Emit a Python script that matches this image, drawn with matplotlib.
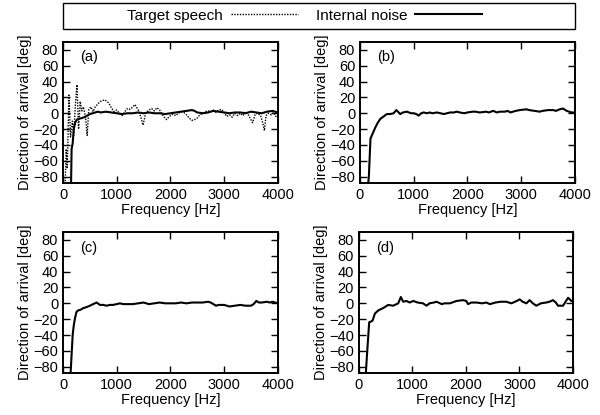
import numpy as np
import matplotlib
matplotlib.use("Agg")
import matplotlib.pyplot as plt
from matplotlib.patches import Rectangle
from matplotlib.lines import Line2D

plt.rcParams['font.family'] = ['Liberation Sans', 'DejaVu Sans']

# -----------------------------------------------------------------------------
# data
# -----------------------------------------------------------------------------
# (a) target speech, dotted
freq_a_speech = [0, 40, 60, 80, 110, 140, 175, 200, 230, 260, 290, 320, 350, 380,
                 420, 450, 480, 520, 560, 600, 650, 700, 780, 850, 900, 950, 1000,
                 1050, 1100, 1150, 1200, 1250, 1300, 1340, 1400, 1450, 1490, 1540,
                 1600, 1650, 1700, 1750, 1800, 1850, 1900, 1930, 1980, 2050, 2100,
                 2150, 2200, 2250, 2300, 2350, 2400, 2450, 2500, 2550, 2600, 2650,
                 2700, 2750, 2800, 2850, 2900, 2950, 3000, 3050, 3100, 3150, 3200,
                 3250, 3300, 3350, 3400, 3450, 3500, 3530, 3580, 3620, 3680, 3720,
                 3750, 3780, 3820, 3880, 3920, 3960, 4000]
doa_a_speech = [-90, -90, -45, -70, 23, -30, -10, -28, 10, 36, -20, 15, 3, 8,
                -5, -28, 5, 8, 2, 8, 12, 15, 17, 13, 7, 2, 4,
                0, -3, 2, 6, 5, 8, 11, 4, -5, -15, 0,
                4, 6, 3, 7, 4, -2, -6, -8, -4, -1, -3,
                0, 2, 1, -2, -6, -9, -8, -6, -2, 0, 2,
                3, 2, 4, 1, 4, 5, 1, -4, -2, -5, 0,
                -3, 0, -3, 2, -2, -8, -12, -1, 0, -3, -12,
                -22, -3, 0, -2, 1, -4, -3]

# (a) internal noise, solid
freq_a_noise = [0, 150, 160, 180, 200, 230, 260, 300, 350, 400, 450, 500, 550, 600,
                650, 700, 800, 900, 1000, 1100, 1200, 1300, 1400, 1500, 1600, 1700,
                1800, 1900, 2000, 2100, 2200, 2300, 2400, 2450, 2500, 2600, 2700,
                2800, 2900, 3000, 3100, 3200, 3300, 3400, 3500, 3600, 3700, 3800,
                3900, 4000]
doa_a_noise = [-90, -90, -45, -38, -20, -11, -8, -7, -6, -5, -3, -1, 0, 1,
               2, 1, 2, 1, 0, -1, 0, 0, 1, 0, 1, 0,
               0, -1, 0, 1, 2, 3, 4, 3, 1, 0, 1,
               3, 2, 1, 0, 1, 1, 0, 2, 1, 0, 2,
               3, 1]

# (b) internal noise
freq_b = [0, 150, 165, 195, 240, 285, 330, 380, 440, 500, 560, 626, 676, 750, 800,
          874, 950, 1000, 1050, 1091, 1140, 1184, 1250, 1300, 1350, 1432, 1500,
          1560, 1620, 1680, 1750, 1800, 1860, 1940, 2000, 2100, 2150, 2230, 2350,
          2400, 2480, 2550, 2600, 2700, 2750, 2800, 2900, 2976, 3100, 3150, 3250,
          3348, 3400, 3500, 3600, 3650, 3720, 3780, 3850, 3937, 4000]
doa_b = [-90, -90, -80, -32, -25, -18, -12, -7, -4, -1, -1, 0, 4, -1, 1,
         2, 0, 0, -1, -3, 0, 1, 0, 1, 0, 1, 0,
         -1, 0, 1, 1, 2, 1, 0, 1, 2, 2, 1, 2,
         1, 3, 1, 2, 2, 3, 1, 3, 4, 5, 4, 3,
         2, 3, 4, 4, 3, 5, 6, 3, 1, 1]

# (c) internal noise
freq_c = [0, 140, 160, 180, 200, 223, 250, 280, 330, 378, 430, 502, 560, 626, 688,
          750, 812, 870, 930, 1000, 1060, 1120, 1200, 1300, 1400, 1500, 1600, 1700,
          1800, 1900, 2000, 2100, 2200, 2300, 2400, 2500, 2600, 2700, 2750, 2800,
          2850, 2900, 3000, 3100, 3200, 3300, 3400, 3500, 3550, 3600, 3650, 3700,
          3800, 3850, 3900, 4000]
doa_c = [-90, -90, -65, -40, -28, -19, -11, -9, -8, -6, -5, -3, -1, 1, -2,
         -2, -3, -2, -2, -1, 0, -1, -1, -1, 0, 1, -1, 0,
         1, 0, 0, 0, 1, 0, 1, 1, 1, 2, 1, -1,
         -3, -2, -2, -4, -3, -2, -3, -3, -1, 3, 1, 1,
         2, 1, 2, 0]

# (d) internal noise
freq_d = [0, 130, 150, 194, 256, 300, 362, 455, 549, 642, 736, 785, 829, 891, 950,
          1016, 1100, 1200, 1265, 1320, 1400, 1452, 1550, 1600, 1701, 1825, 1950,
          2006, 2040, 2100, 2200, 2300, 2380, 2450, 2550, 2650, 2754, 2850, 2950,
          3003, 3060, 3130, 3190, 3250, 3315, 3400, 3500, 3560, 3626, 3680, 3720,
          3814, 3870, 3908, 3970, 4000]
doa_d = [-90, -90, -68, -24, -22, -13, -9, -6, -2, -3, 0, 8, 2, 3, 1,
         3, 1, 0, -3, 0, 1, 2, -1, 0, 0, 3, 4,
         3, -1, 1, 1, 0, 1, -1, 1, 2, 2, 0, 3,
         5, 2, 0, 4, 0, -3, 0, 1, 2, 4, 1, -3,
         -3, 3, 7, 3, 2]

panel_labels = ['(a)', '(b)', '(c)', '(d)']
y_ticks = [-80, -60, -40, -20, 0, 20, 40, 60, 80]
x_ticks = [0, 1000, 2000, 3000, 4000]

# -----------------------------------------------------------------------------
# figure
# -----------------------------------------------------------------------------
fig = plt.figure(figsize=(6.0, 4.15), dpi=100)

# axes rectangles [left, bottom, width, height] in figure fraction
rects = [[0.105, 0.559, 0.358, 0.340],
         [0.600, 0.559, 0.358, 0.340],
         [0.105, 0.101, 0.358, 0.340],
         [0.598, 0.101, 0.357, 0.340]]

axes = [fig.add_axes(r) for r in rects]

axes[0].plot(freq_a_speech, doa_a_speech, color='black', linestyle=(0, (1, 1)), linewidth=1.0)
axes[0].plot(freq_a_noise, doa_a_noise, color='black', linewidth=1.5)
axes[1].plot(freq_b, doa_b, color='black', linewidth=1.5)
axes[2].plot(freq_c, doa_c, color='black', linewidth=1.5)
axes[3].plot(freq_d, doa_d, color='black', linewidth=1.5)

for ax, lab in zip(axes, panel_labels):
    ax.set_xlim(0, 4000)
    ax.set_ylim(-88, 90)
    ax.set_xticks(x_ticks)
    ax.set_yticks(y_ticks)
    ax.tick_params(direction='in', length=5, width=1.0, top=True, right=True,
                   labelsize=10.5, pad=3.5)
    for s in ax.spines.values():
        s.set_linewidth(1.4)
    ax.set_xlabel('Frequency [Hz]', fontsize=10.5, labelpad=0.5)
    ax.set_ylabel('Direction of arrival [deg]', fontsize=10.5, labelpad=1)
    ax.text(0.08, 0.89, lab, transform=ax.transAxes, fontsize=10.5, va='center')

# legend box across the top
fig.patches.append(Rectangle((0.105, 0.930), 0.853, 0.063, transform=fig.transFigure,
                             fill=False, edgecolor='black', linewidth=1.0))
handles = [Line2D([], [], color='black', linestyle=(0, (1, 1)), linewidth=1.0),
           Line2D([], [], color='black', linewidth=1.5)]
fig.legend(handles, ['Target speech', 'Internal noise'], loc='center',
           bbox_to_anchor=(0.508, 0.962), ncol=2, frameon=False, markerfirst=False,
           handlelength=4.4, columnspacing=1.2, handletextpad=0.5, fontsize=11)

fig.savefig('out.png', dpi=100)
